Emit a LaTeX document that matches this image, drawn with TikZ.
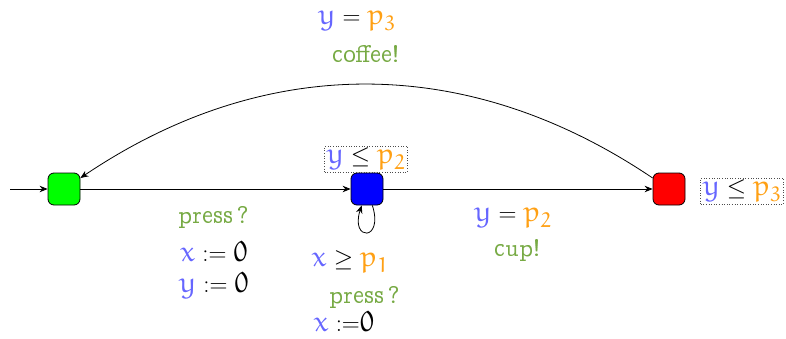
\documentclass[tikz,border=0pt]{standalone}
\usepackage[OT1]{fontenc}
\renewcommand\rmdefault{ccr}
\DeclareMathSizes{24}{29}{21}{16}
\DeclareSymbolFont{eulerletters}{U}{eur}{m}{n}
\DeclareMathSymbol{x}{\mathalpha}{eulerletters}{`x}
\DeclareMathSymbol{y}{\mathalpha}{eulerletters}{`y}
\DeclareMathSymbol{p}{\mathalpha}{eulerletters}{`p}
\DeclareMathSymbol{0}{\mathalpha}{eulerletters}{`0}
\DeclareMathSymbol{1}{\mathalpha}{eulerletters}{`1}
\DeclareMathSymbol{2}{\mathalpha}{eulerletters}{`2}
\DeclareMathSymbol{3}{\mathalpha}{eulerletters}{`3}
\usetikzlibrary{arrows.meta}
\definecolor{varc}{RGB}{102,102,255}
\definecolor{parc}{RGB}{255,160,20}
\definecolor{actc}{RGB}{119,170,68}
\newcommand\Vx{{\color{varc}x}}
\newcommand\Vy{{\color{varc}y}}
\newcommand\Pa[1]{{\color{parc}p_{#1}}}
\tikzset{
  locbox/.style={draw=black, line width=0.8pt, rounded corners=6pt, minimum size=32pt, inner sep=0pt},
  lbl/.style={inner sep=0pt, font=\fontsize{24}{29}\selectfont},
  invbox/.style={lbl, draw=black!70, dotted, line width=0.6pt, inner sep=2pt},
  actlbl/.style={inner sep=0pt, font=\fontsize{25}{30}\selectfont, text=actc},
  edgearr/.style={line width=0.8pt, -{Stealth[length=8pt,width=6.5pt]}}
}
\begin{document}
\begin{tikzpicture}[x=1pt,y=1pt]
\useasboundingbox (0,0) rectangle (786,338);
% locations
\node[locbox, fill={rgb,255:red,0;green,255;blue,0}] (G) at (64,149) {};
\node[locbox, fill={rgb,255:red,0;green,0;blue,255}] (B) at (367,149) {};
\node[locbox, fill={rgb,255:red,255;green,0;blue,0}] (R) at (669,149) {};
\coordinate (init) at (10,149);
% invariants
\node[invbox] (invB) at (366,179) {$\Vy\leq\Pa{2}$};
\node[invbox] (invR) at (742,147) {$\Vy\leq\Pa{3}$};
% edges
\draw[edgearr] (init) -- (G);
\draw[edgearr] (G) -- (B);
\draw[edgearr] (B) -- (R);
\draw[edgearr] (R) to[bend right=34] (G);
\draw[edgearr] (B) to[out=-72,in=-108,min distance=38pt] (B);
% labels G->B
\node[actlbl] (l1) at (214,121) {press\,?};
\node[lbl] (l2) at (214,87) {$\Vx := 0$};
\node[lbl] (l3) at (214,53) {$\Vy := 0$};
% loop labels
\node[lbl] (l4) at (350,76) {$\Vx \geq \Pa{1}$};
\node[actlbl] (l5) at (365,41) {press\,?};
\node[lbl, anchor=base] (l6) at (344,7) {$\Vx\;{:=}0$};
% labels B->R
\node[lbl] (l7) at (513,120) {$\Vy=\Pa{2}$};
\node[actlbl] (l8) at (517,88) {cup!};
% labels R->G
\node[lbl] (l9) at (357,317) {$\Vy=\Pa{3}$};
\node[actlbl] (l10) at (366,284) {coffee!};
\end{tikzpicture}
\end{document}
